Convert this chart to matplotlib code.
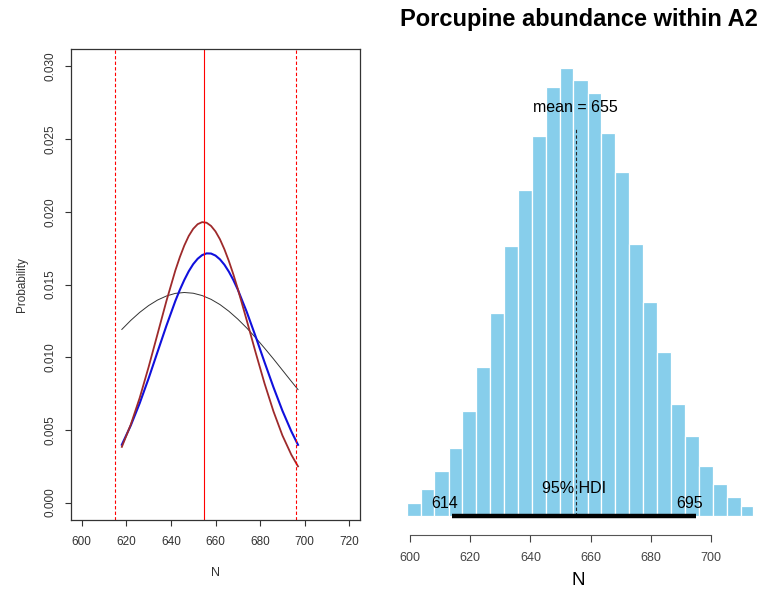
import numpy as np
import matplotlib
matplotlib.use("Agg")
import matplotlib.pyplot as plt

plt.rcParams['font.family'] = ['Liberation Sans', 'DejaVu Sans']

# ---- left panel: probability curves over N ----
curve_n = [618, 622, 626, 630, 634, 638, 642, 644, 646, 648, 650, 652, 654,
           656, 658, 660, 662, 664, 666, 668, 670, 674, 678, 682, 686, 690,
           694, 697]
prob_brown = [0.00383, 0.00536, 0.00720, 0.00932, 0.01159, 0.01387, 0.01597,
              0.01688, 0.01768, 0.01834, 0.01883, 0.01915, 0.01929, 0.01925,
              0.01903, 0.01865, 0.01811, 0.01742, 0.01661, 0.01570, 0.01470,
              0.01254, 0.01032, 0.00819, 0.00627, 0.00462, 0.00329, 0.00249]
prob_blue = [0.00398, 0.00530, 0.00683, 0.00854, 0.01036, 0.01217, 0.01387,
             0.01463, 0.01531, 0.01591, 0.01640, 0.01677, 0.01702, 0.01714,
             0.01713, 0.01699, 0.01673, 0.01636, 0.01588, 0.01531, 0.01465,
             0.01312, 0.01142, 0.00965, 0.00793, 0.00632, 0.00490, 0.00397]
black_n = [618, 622, 626, 630, 634, 638, 642, 646, 650, 654, 658,
           662, 666, 670, 674, 678, 682, 686, 690, 694, 697]
prob_black = [0.01191, 0.01253, 0.01308, 0.01355, 0.01393, 0.01421, 0.01439,
              0.01445, 0.01440, 0.01424, 0.01398, 0.01362, 0.01316, 0.01262,
              0.01201, 0.01134, 0.01062, 0.00988, 0.00911, 0.00834, 0.00777]
n_mean = 655
n_lower = 615
n_upper = 696

# ---- right panel: posterior histogram ----
bin_edges = [598.9, 603.5, 608.1, 612.8, 617.4, 622.0, 626.6, 631.2, 635.9,
             640.5, 645.1, 649.7, 654.3, 659.0, 663.6, 668.2, 672.8, 677.4,
             682.1, 686.7, 691.3, 695.9, 700.5, 705.2, 709.8, 714.1]
density = [0.00056, 0.00116, 0.00196, 0.00294, 0.00454, 0.00646, 0.00878,
           0.01168, 0.01411, 0.01646, 0.01858, 0.01940, 0.01887, 0.01832,
           0.01659, 0.01489, 0.01177, 0.00925, 0.00710, 0.00486, 0.00348,
           0.00216, 0.00139, 0.00082, 0.00045]
post_mean = 655
hdi_low = 614
hdi_high = 695

W, H = 767, 591
fig = plt.figure(figsize=(W / 100, H / 100), dpi=100)

# left axes (pixel box: 71..360 x 49..520)
ax1 = fig.add_axes([71 / W, 1 - 520 / H, 289 / W, 471 / H])
ax1.plot(black_n, prob_black, color='#333333', lw=0.7)
ax1.plot(curve_n, prob_blue, color='#1010dd', lw=1.5)
ax1.plot(curve_n, prob_brown, color='#9e2a2b', lw=1.3)
ax1.axvline(n_mean, color='red', lw=0.8)
for v in (n_lower, n_upper):
    ax1.axvline(v, color='red', lw=0.8, ls=(0, (3, 2)))
ax1.set_xlim(595.2, 724.8)
ax1.set_ylim(-0.0012, 0.0312)
ax1.set_xticks(np.arange(600, 721, 20))
ax1.set_yticks([0.0, 0.005, 0.010, 0.015, 0.020, 0.025, 0.030])
ax1.set_yticklabels(['0.000', '0.005', '0.010', '0.015', '0.020', '0.025', '0.030'],
                    rotation=90, va='center')
ax1.tick_params(length=4.5, width=0.8, colors='#333333', labelsize=8.5)
ax1.tick_params(axis='x', pad=7)
ax1.tick_params(axis='y', pad=6)
for s in ax1.spines.values():
    s.set_color('#333333')
    s.set_linewidth(0.9)
ax1.set_xlabel('N', fontsize=9, color='#333333', labelpad=14)
ax1.set_ylabel('Probability', fontsize=8.5, color='#333333', labelpad=12)

# right axes (pixel box: 390..767 x 45..535)
ax2 = fig.add_axes([390 / W, 1 - 535 / H, 377 / W, 490 / H])
ax2.bar(bin_edges[:-1], density, width=np.diff(bin_edges), align='edge',
        color='skyblue', edgecolor='white', linewidth=0.9)
ax2.plot([post_mean, post_mean], [0, 0.01679], color='#222222',
         lw=0.8, ls=(0, (3, 2)))
ax2.text(post_mean, 0.01768, 'mean = 655', ha='center', va='center',
         fontsize=11.5)
ax2.plot([hdi_low, hdi_high], [0, 0], color='black', lw=3.2,
         solid_capstyle='butt')
ax2.text((hdi_low + hdi_high) / 2, 0.00117, '95% HDI', ha='center',
         va='center', fontsize=11.5)
ax2.text(hdi_low - 2.4, 0.00052, str(hdi_low), ha='center', va='center',
         fontsize=11.5)
ax2.text(hdi_high - 2.2, 0.00052, str(hdi_high), ha='center', va='center',
         fontsize=11.5)
ax2.set_xlim(593.36, 718.6)
ax2.set_ylim(-0.000822, 0.02038)
for side in ('top', 'right', 'left'):
    ax2.spines[side].set_visible(False)
ax2.spines['bottom'].set_bounds(600, 700)
ax2.spines['bottom'].set_color('#555555')
ax2.set_yticks([])
ax2.set_xticks(np.arange(600, 701, 20))
ax2.tick_params(axis='x', length=5, width=0.8, colors='#444444',
                labelsize=9, pad=7)
ax2.set_xlabel('N', fontsize=13.5, labelpad=6)
ax2.set_title('Porcupine abundance within A2', fontsize=17,
              fontweight='bold', pad=14)

fig.savefig('out.png', dpi=100)
